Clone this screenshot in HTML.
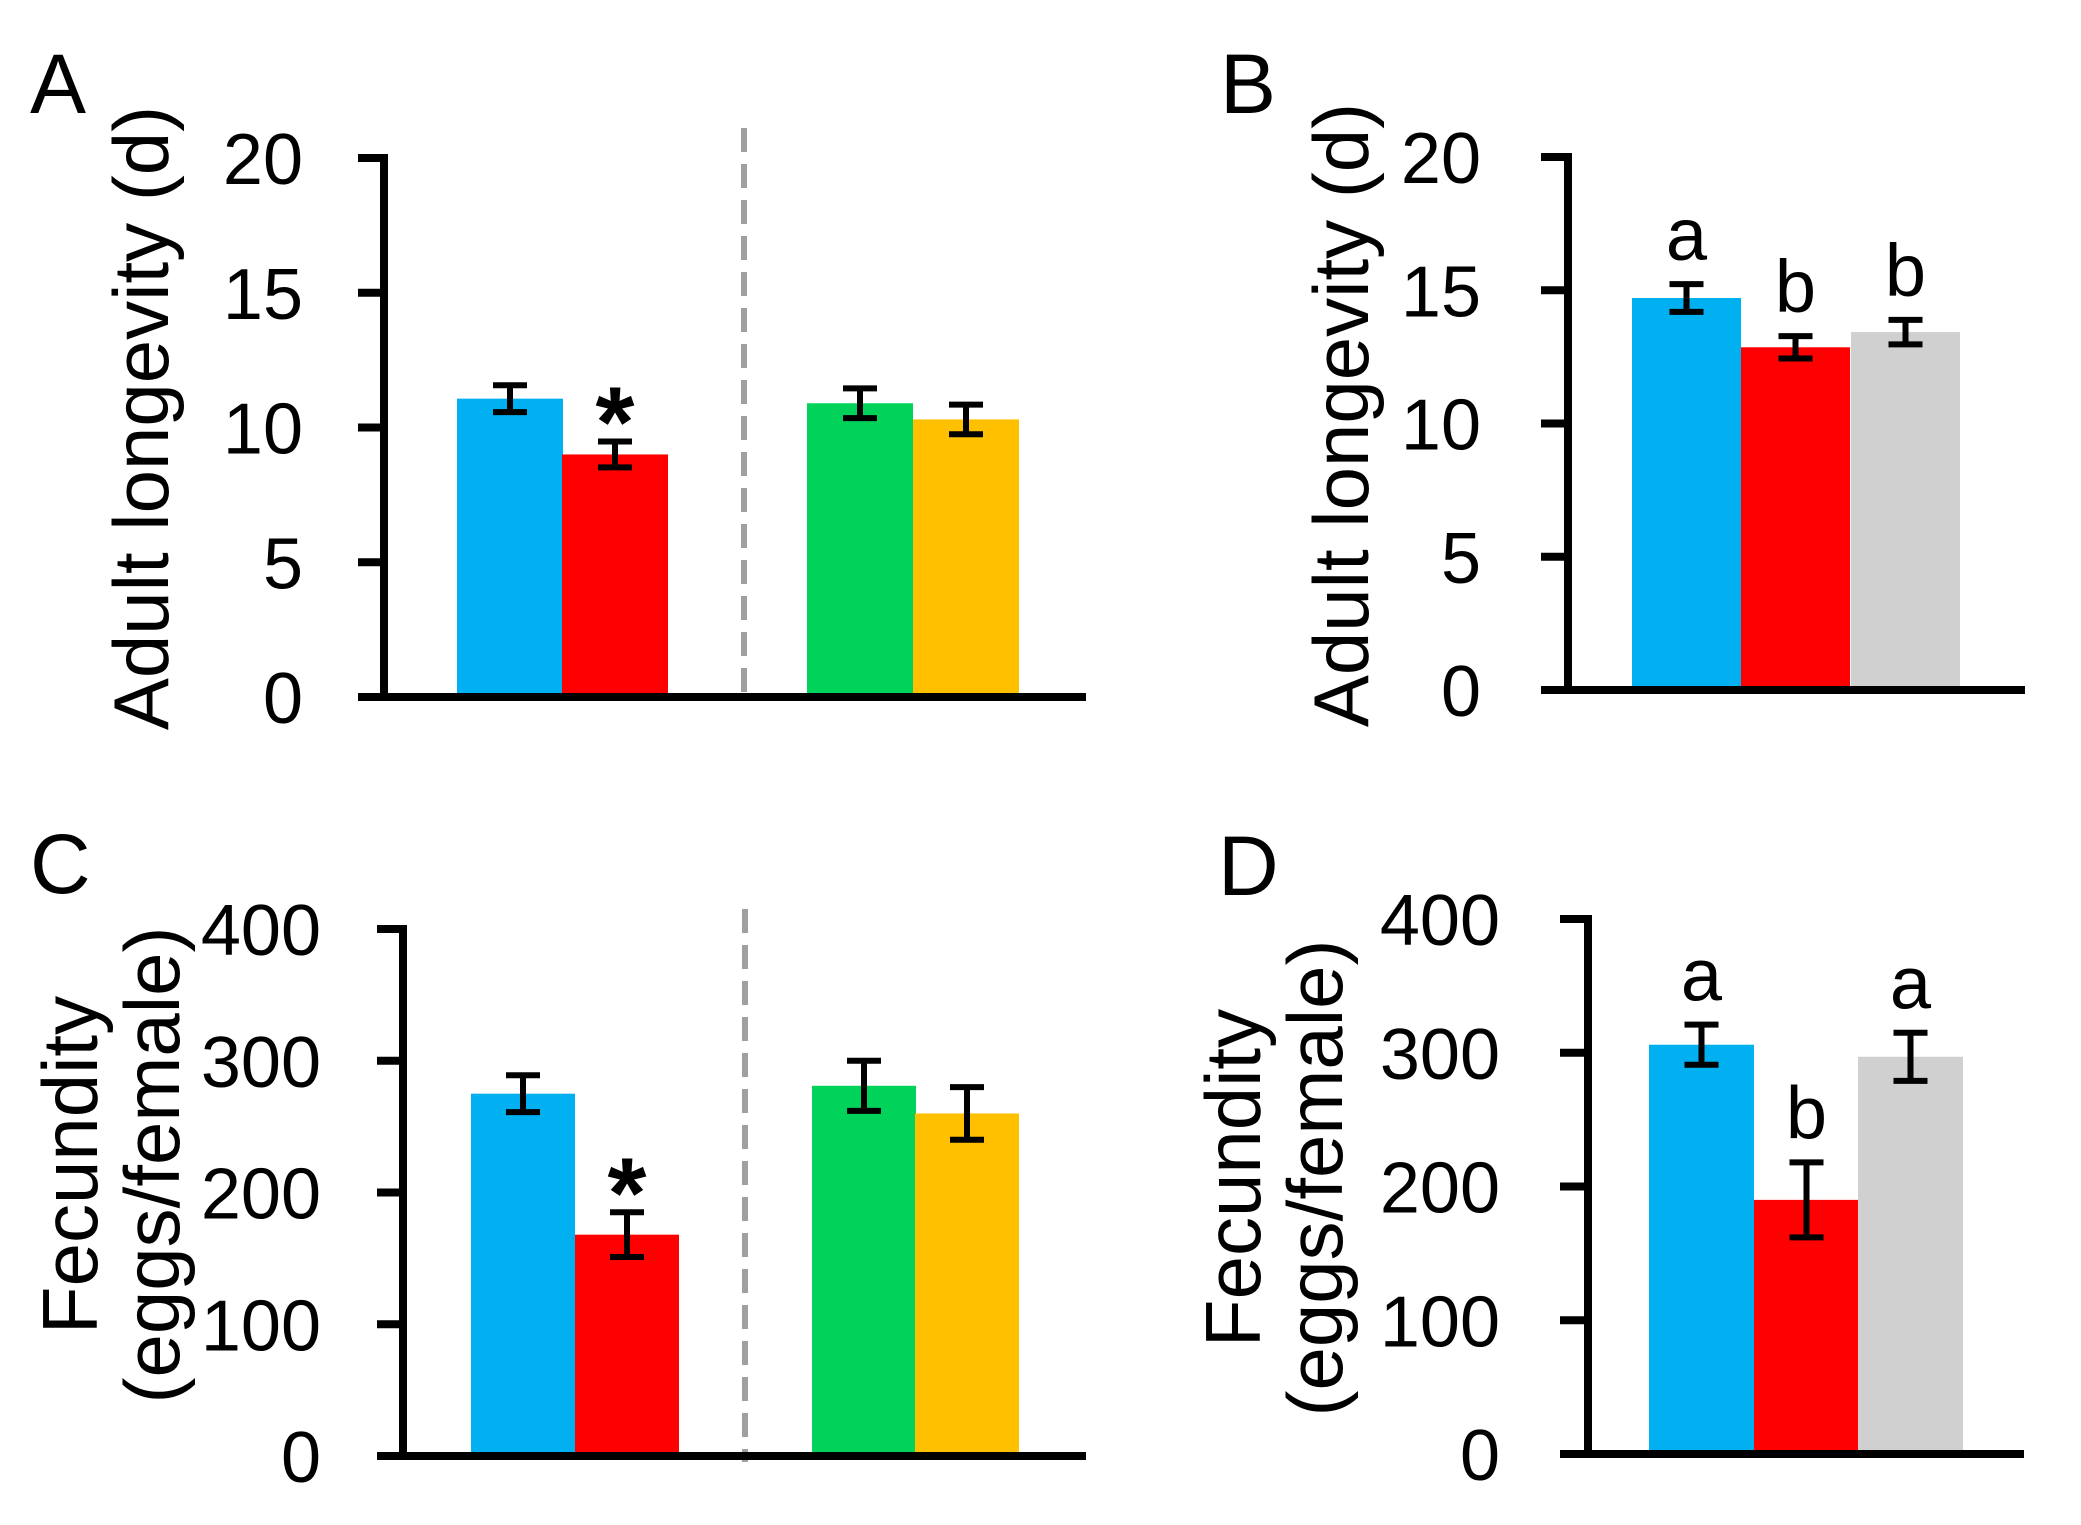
<!DOCTYPE html>
<html><head><meta charset="utf-8"><style>
html,body{margin:0;padding:0;background:#fff;}
svg{display:block;font-family:"Liberation Sans",Arial,sans-serif;}
</style></head><body>
<svg id="fig" width="2081" height="1525" viewBox="0 0 2081 1525"></svg>
<script>
// ---- data ----
const catsA = ["ctrl-1","treat-1","ctrl-2","treat-2"];
const meanA = [11.07, 9.0, 10.9, 10.3];
const errA  = [0.5, 0.48, 0.55, 0.55];
const ticksA = [0,5,10,15,20];

const catsB = ["ctrl","treat","rescue"];
const meanB = [14.71, 12.86, 13.43];
const errB  = [0.52, 0.42, 0.46];
const lettersB = ["a","b","b"];
const ticksB = [0,5,10,15,20];

const catsC = ["ctrl-1","treat-1","ctrl-2","treat-2"];
const meanC = [275, 168, 281, 260];
const errC  = [14, 17, 19, 20];
const ticksC = [0,100,200,300,400];

const catsD = ["ctrl","treat","rescue"];
const meanD = [306, 190, 297];
const errD  = [15, 28, 18];
const lettersD = ["a","b","a"];
const ticksD = [0,100,200,300,400];

const NS = "http://www.w3.org/2000/svg";
const svg = document.getElementById("fig");
function mk(tag, attrs, parent){
  const e = document.createElementNS(NS, tag);
  for (const k in attrs) e.setAttribute(k, attrs[k]);
  (parent||svg).appendChild(e);
  return e;
}

function panel(cfg){
  const g = mk("g", {});
  
  
  const yScale = v => cfg.y0 - (v / cfg.max) * (cfg.y0 - cfg.yTop);
  // panel letter
  const L = mk("text", {x:cfg.letterX, y:cfg.letterY, "font-size":84, fill:"#000"}, g);
  L.textContent = cfg.letter;
  
  
  // y title
  const T = mk("text", {transform:`translate(${cfg.titleX},${cfg.titleY}) rotate(-90)`, "text-anchor":"middle", "font-size":78, fill:"#000"}, g);
  
  
  cfg.titleLines.forEach((line, i) => {
    const ts = mk("tspan", {x:0, y: i*cfg.lineGap}, T);
    ts.textContent = line;
  });
  // bars
  cfg.means.forEach((m, i) => {
    const x = cfg.barX[i];
    const r = mk("rect", {x:x, y:yScale(m), width:cfg.barW, height:cfg.y0 - yScale(m), fill:cfg.colors[i]}, g);
    
    
    const cx = x + cfg.barW/2;
    const yt = yScale(m + cfg.errs[i]), yb = yScale(m - cfg.errs[i]);
    const eb = mk("path", {d:`M${cx},${yt}V${yb}M${cx-17},${yt}H${cx+17}M${cx-17},${yb}H${cx+17}`, stroke:"#000", "stroke-width":6, fill:"none"}, g);
    
    
    if (cfg.letters){
      const t = mk("text", {x:cx, y:yt - 24, "text-anchor":"middle", "font-size":74, fill:"#000"}, g);
      t.textContent = cfg.letters[i];
      
      
    }
    if (cfg.starIdx === i){
      const s = mk("text", {x:cx, y:yt - 42 + 57, "text-anchor":"middle", "font-size":100, "font-weight":"bold", fill:"#000"}, g);
      s.textContent = "*";
      
      
    }
  });
  // dashed divider
  if (cfg.dashX){
    const d = mk("line", {x1:cfg.dashX, x2:cfg.dashX, y1:cfg.dashTop, y2:cfg.y0+6, stroke:"#a0a0a0", "stroke-width":6, "stroke-dasharray":"24 12"}, g);
    
    
  }
  // axes
  const ya = mk("line", {x1:cfg.axisX, x2:cfg.axisX, y1:cfg.yTop-4, y2:cfg.y0+4, stroke:"#000", "stroke-width":8}, g);
  
  
  const xa = mk("line", {x1:cfg.tickL, x2:cfg.xEnd, y1:cfg.y0, y2:cfg.y0, stroke:"#000", "stroke-width":8}, g);
  
  
  cfg.ticks.forEach(t => {
    const y = yScale(t);
    const tk = mk("line", {x1:cfg.tickL, x2:cfg.axisX, y1:y, y2:y, stroke:"#000", "stroke-width":8}, g);
    
    
    const lb = mk("text", {x:cfg.axisX - cfg.labelOff, y:y + 26, "text-anchor":"end", "font-size":72, fill:"#000"}, g);
    lb.textContent = String(t);
    
    
  });
}

const c4 = ["#00b0f0","#ff0000","#00d25a","#ffc000"];
const c3 = ["#00b0f0","#ff0000","#d0d0d0"];

panel({name:"panel-a", letter:"A", letterX:30, letterY:113, titleLines:["Adult longevity (d)"], titleX:168, titleY:418, lineGap:0,
  means:meanA, errs:errA, cats:catsA, ticks:ticksA, max:20, y0:697, yTop:158, axisX:384, tickL:358, xEnd:1086, labelOff:81,
  barX:[457,562,807,913], barW:106, colors:c4, starIdx:1, dashX:744, dashTop:128});
panel({name:"panel-b", letter:"B", letterX:1220, letterY:113, titleLines:["Adult longevity (d)"], titleX:1368, titleY:415, lineGap:0,
  means:meanB, errs:errB, cats:catsB, ticks:ticksB, max:20, y0:690, yTop:157, axisX:1568, tickL:1541, xEnd:2025, labelOff:87,
  barX:[1632,1741,1851], barW:109, colors:c3, letters:lettersB});
panel({name:"panel-c", letter:"C", letterX:30, letterY:893, titleLines:["Fecundity","(eggs/female)"], titleX:97, titleY:1165, lineGap:82,
  means:meanC, errs:errC, cats:catsC, ticks:ticksC, max:400, y0:1456, yTop:929, axisX:403, tickL:377, xEnd:1086, labelOff:82,
  barX:[471,575,812,915], barW:104, colors:c4, starIdx:1, dashX:745, dashTop:909});
panel({name:"panel-d", letter:"D", letterX:1218, letterY:895, titleLines:["Fecundity","(eggs/female)"], titleX:1260, titleY:1178, lineGap:82,
  means:meanD, errs:errD, cats:catsD, ticks:ticksD, max:400, y0:1454, yTop:919, axisX:1588, tickL:1560, xEnd:2024, labelOff:88,
  barX:[1649,1754,1858], barW:105, colors:c3, letters:lettersD});
</script>
</body></html>
